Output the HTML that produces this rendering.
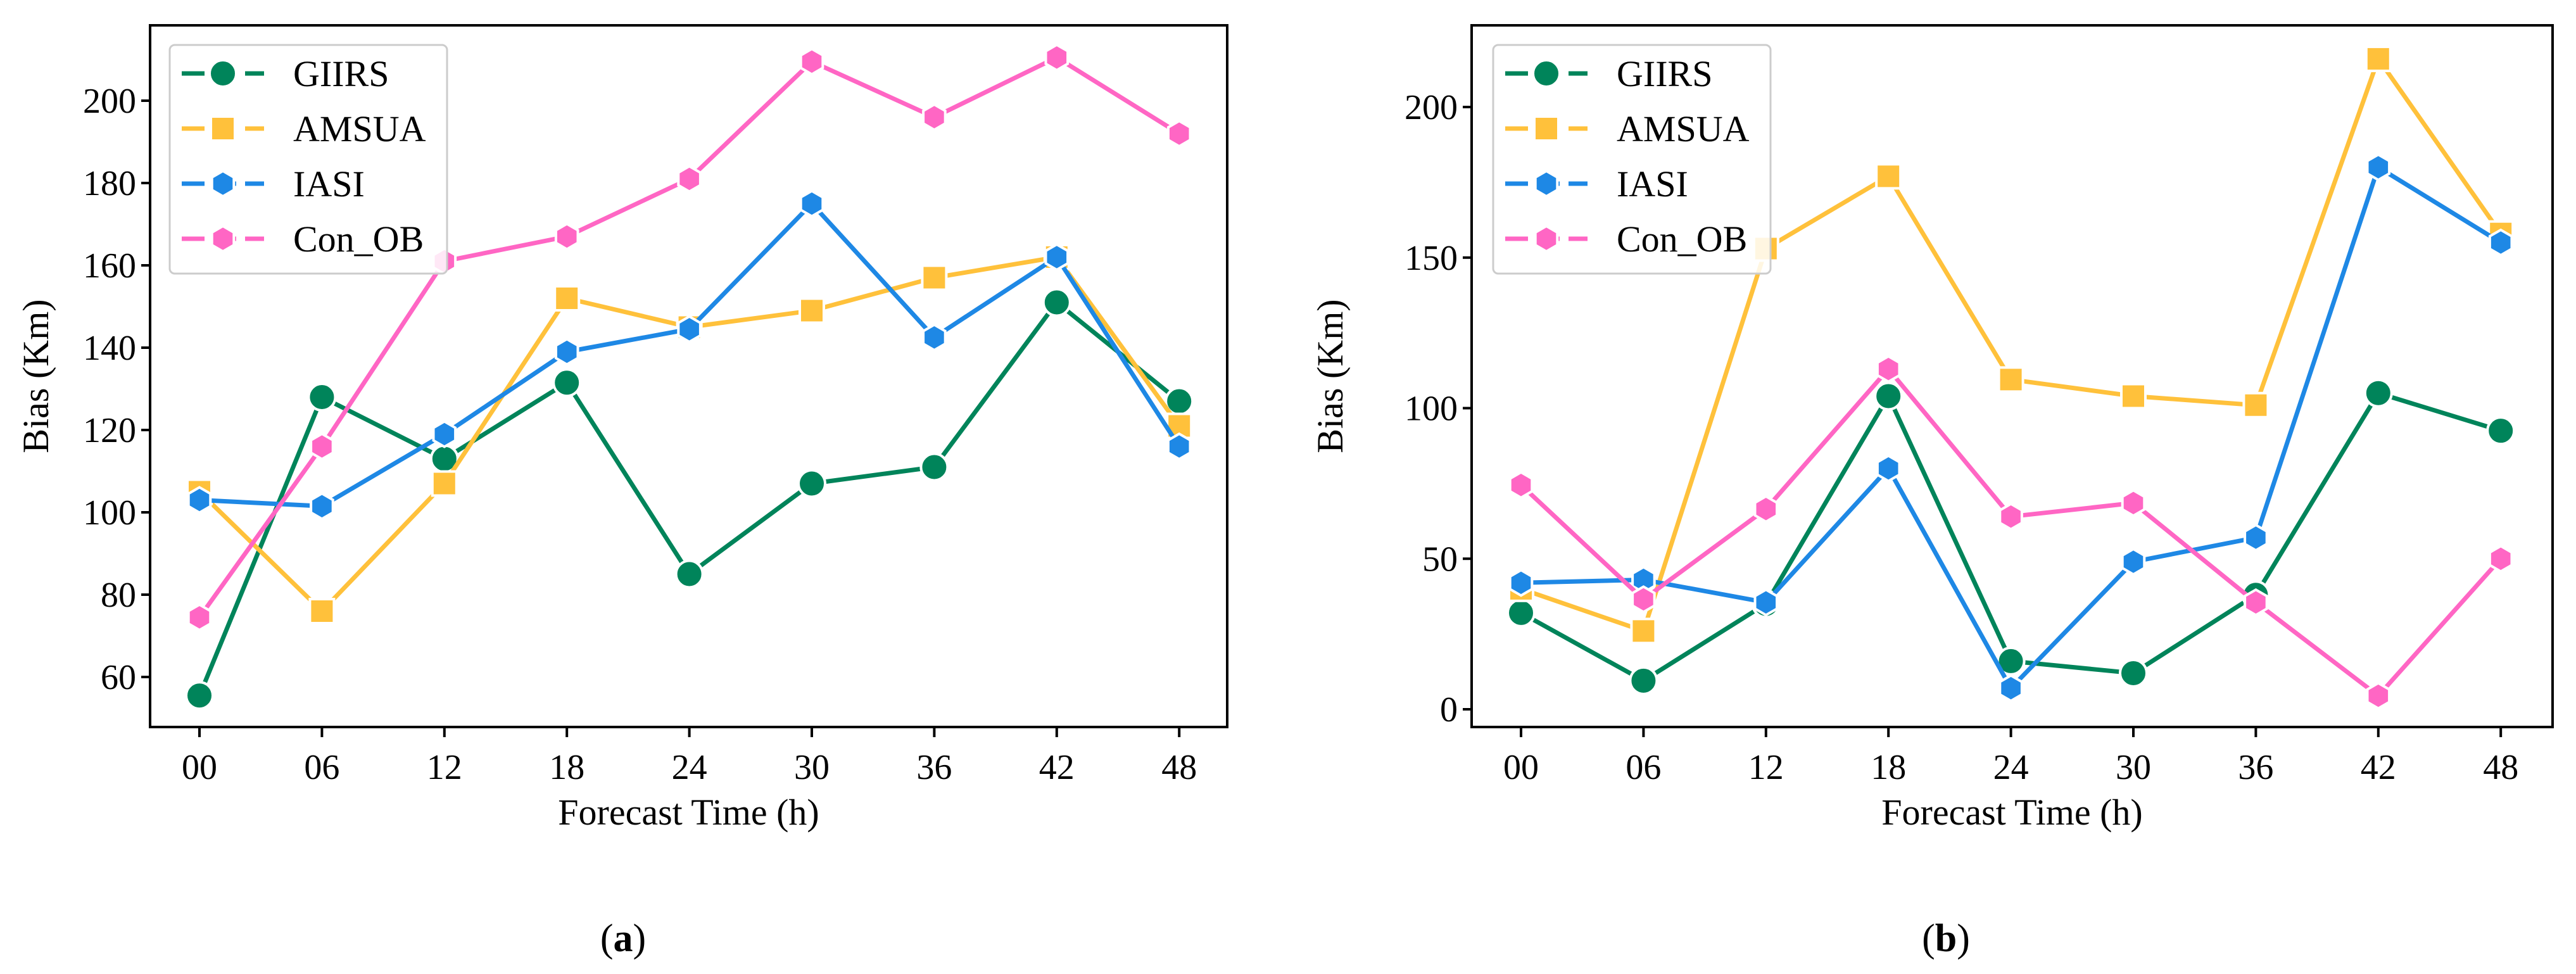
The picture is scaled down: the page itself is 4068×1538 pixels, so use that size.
<!DOCTYPE html>
<html><head><meta charset="utf-8"><style>
html,body{margin:0;padding:0;background:#fff}
svg{display:block;font-family:"Liberation Serif",serif}
</style></head><body>
<svg id="s" width="4068" height="1538" viewBox="0 0 4068 1538"></svg>
<script>
const categories=["00","06","12","18","24","30","36","42","48"];
const seriesNames=["GIIRS","AMSUA","IASI","Con_OB"];
const aGIIRS=[55.5,128,113,131.5,85,107,111,151,127];
const aAMSUA=[105,76,107,152,145,149,157,162,121];
const aIASI=[103,101.5,119,139,144.5,175,142.5,162,116];
const aConOB=[74.5,116,161,167,181,209.5,196,210.5,192];
const bGIIRS=[32,9.5,35,104,16,12,38,105,92.5];
const bAMSUA=[40,26,153,177,109.5,104,101,216,158];
const bIASI=[42,43,35.5,80,7,49,57,180,155];
const bConOB=[74.5,36.5,66.5,113,64,68.5,35.5,4.5,50];
const aTicks=[60,80,100,120,140,160,180,200];
const bTicks=[0,50,100,150,200];
const colors=["#00845a","#ffc13b","#1e88e5","#ff66c4"];
const markers=["circle","square","hex","hex"];
const NS="http://www.w3.org/2000/svg";
const svg=document.getElementById('s');
function el(t,a,p){const e=document.createElementNS(NS,t);for(const k in a)e.setAttribute(k,a[k]);(p||svg).appendChild(e);return e;}
function marker(g,type,x,y,c){
  let m;
  if(type==="circle") m=el('circle',{cx:x,cy:y,r:21,fill:c,stroke:'#fff','stroke-width':4},g);
  else if(type==="square") m=el('rect',{x:x-19,y:y-19,width:38,height:38,fill:c,stroke:'#fff','stroke-width':4},g);
  else{let pts=[];for(let i=0;i<6;i++){const a=Math.PI/3*i+Math.PI/2;pts.push((x+20*Math.cos(a)).toFixed(1)+','+(y+20*Math.sin(a)).toFixed(1));}
    m=el('polygon',{points:pts.join(' '),fill:c,stroke:'#fff','stroke-width':4},g);}
  return m;
}
function chart(cfg){
  const g=el('g',{});
  
  
  const xs=i=>cfg.x0+i*193.4;
  const ys=v=>cfg.yf(v);
  // ticks
  cfg.ticks.forEach(t=>{
    el('line',{x1:cfg.L-14,x2:cfg.L,y1:ys(t),y2:ys(t),stroke:'#000','stroke-width':4},g);
    const tx=el('text',{x:cfg.L-22,y:ys(t)+19,'font-size':56,'text-anchor':'end'},g);
    tx.textContent=t;
    
    
  });
  categories.forEach((c,i)=>{
    el('line',{x1:xs(i),x2:xs(i),y1:cfg.B,y2:cfg.B+16,stroke:'#000','stroke-width':4},g);
    const tx=el('text',{x:xs(i),y:cfg.B+82,'font-size':56,'text-anchor':'middle'},g);
    tx.textContent=c;
    
    
  });
  // series
  cfg.data.forEach((d,k)=>{
    const sg=el('g',{},g);
    
    
    el('polyline',{points:d.map((v,i)=>xs(i)+','+ys(v)).join(' '),fill:'none',stroke:colors[k],'stroke-width':7,'stroke-linejoin':'round'},sg);
    d.forEach((v,i)=>{const m=marker(sg,markers[k],xs(i),ys(v),colors[k]);
      
      });
  });
  const fr=el('rect',{x:cfg.L,y:40,width:cfg.R-cfg.L,height:cfg.B-40,fill:'none',stroke:'#000','stroke-width':4},g);
  
  
  // legend
  const lg=el('g',{},g);
  
  
  el('rect',{x:cfg.lx,y:71,width:438,height:361,rx:8,fill:'#fff','fill-opacity':0.85,stroke:'#ccc','stroke-width':3},lg);
  seriesNames.forEach((n,k)=>{
    const y=116+k*87;
    el('line',{x1:cfg.lx+19,x2:cfg.lx+149,y1:y,y2:y,stroke:colors[k],'stroke-width':7,'stroke-dasharray':'36 14'},lg);
    marker(lg,markers[k],cfg.lx+84,y,colors[k]);
    const t=el('text',{x:cfg.lx+195,y:y+20,'font-size':58},lg);
    t.textContent=n;
    
    
  });
  const xl=el('text',{x:(cfg.L+cfg.R)/2,y:1302,'font-size':58,'text-anchor':'middle'},g);
  xl.textContent='Forecast Time (h)';
  
  
  const yl=el('text',{x:0,y:0,'font-size':58,'text-anchor':'middle',transform:`translate(${cfg.yl},${(40+cfg.B)/2}) rotate(-90)`},g);
  yl.textContent='Bias (Km)';
  
  
  const cap=el('text',{x:cfg.cx,y:1502,'font-size':62,'text-anchor':'middle'},g);
  cap.innerHTML='(<tspan font-weight="bold">'+cfg.cap+'</tspan>)';
  
  
}
chart({name:'chart-a',L:237,R:1938,B:1148,x0:315,yf:v=>1069-(v-60)*6.5,ticks:aTicks,
  data:[aGIIRS,aAMSUA,aIASI,aConOB],lx:268,yl:76,cx:984,cap:'a'});
chart({name:'chart-b',L:2324,R:4031,B:1148,x0:2402,yf:v=>1120-v*4.755,ticks:bTicks,
  data:[bGIIRS,bAMSUA,bIASI,bConOB],lx:2358,yl:2120,cx:3073,cap:'b'});
</script>
</body></html>
